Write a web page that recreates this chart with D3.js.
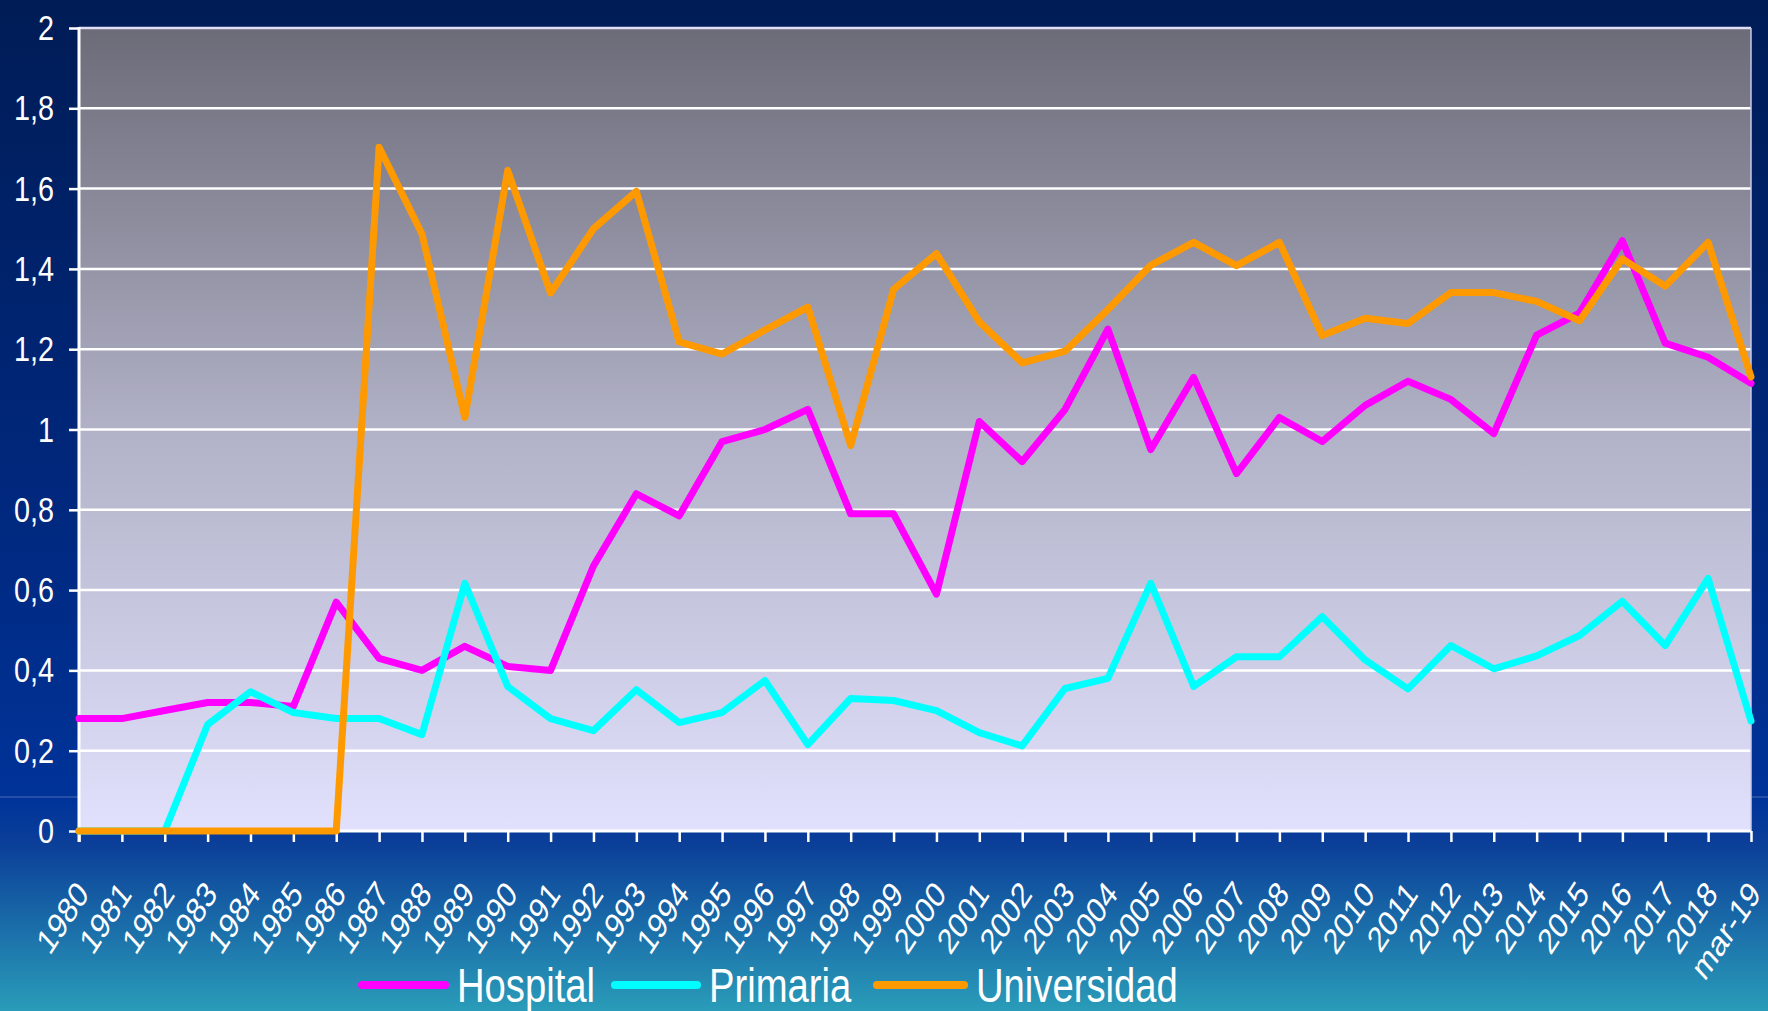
<!DOCTYPE html>
<html>
<head>
<meta charset="utf-8">
<script src="https://cdn.jsdelivr.net/npm/d3@7"></script>
<style>
body { margin: 0; }
</style>
</head>
<body>
<script>
var years = ["1980","1981","1982","1983","1984","1985","1986","1987","1988","1989",
    "1990","1991","1992","1993","1994","1995","1996","1997","1998","1999",
    "2000","2001","2002","2003","2004","2005","2006","2007","2008","2009",
    "2010","2011","2012","2013","2014","2015","2016","2017","2018","mar-19"];

var hospital = [0.28,0.28,0.30,0.32,0.32,0.31,0.57,0.43,0.40,0.46,
    0.41,0.40,0.66,0.84,0.785,0.97,1.00,1.05,0.79,0.79,
    0.59,1.02,0.92,1.05,1.25,0.95,1.13,0.89,1.03,0.97,
    1.06,1.12,1.075,0.99,1.235,1.29,1.47,1.215,1.18,1.115];

var primaria = [0,0,0,0.265,0.347,0.295,0.28,0.28,0.24,0.617,
    0.36,0.28,0.25,0.352,0.27,0.295,0.375,0.215,0.33,0.325,
    0.30,0.245,0.212,0.355,0.38,0.617,0.36,0.434,0.434,0.534,
    0.426,0.354,0.462,0.404,0.436,0.487,0.572,0.462,0.629,0.274];

var universidad = [0,0,0,0,0,0,0,1.703,1.487,1.03,
    1.645,1.34,1.50,1.593,1.218,1.188,1.248,1.305,0.96,1.349,
    1.438,1.268,1.166,1.195,1.299,1.409,1.466,1.408,1.466,1.234,
    1.277,1.264,1.341,1.341,1.319,1.271,1.425,1.357,1.466,1.131];

var seriesNames = ["Hospital", "Primaria", "Universidad"];
var seriesColors = ["#ff00ff", "#00ffff", "#ff9900"];
var yTicks = [0, 0.2, 0.4, 0.6, 0.8, 1, 1.2, 1.4, 1.6, 1.8, 2];

var W = 1768, H = 1011;
var plotL = 79, plotR = 1751, plotT = 28, plotB = 831;

var svg = d3.select("body").append("svg").attr("width", W).attr("height", H);
var defs = svg.append("defs");

// slide background
var bg = defs.append("linearGradient").attr("id", "bg")
    .attr("x1", 0).attr("y1", 0).attr("x2", 0).attr("y2", 1);
bg.append("stop").attr("offset", 0).attr("stop-color", "#001c56");
bg.append("stop").attr("offset", 0.5).attr("stop-color", "#00287e");
bg.append("stop").attr("offset", 0.79).attr("stop-color", "#003399");
bg.append("stop").attr("offset", 0.835).attr("stop-color", "#0b3f99");
bg.append("stop").attr("offset", 1).attr("stop-color", "#2a9cb9");

// plot area background
var pg = defs.append("linearGradient").attr("id", "plotbg")
    .attr("x1", 0).attr("y1", 0).attr("x2", 0).attr("y2", 1);
pg.append("stop").attr("offset", 0).attr("stop-color", "#6c6b78");
pg.append("stop").attr("offset", 0.5).attr("stop-color", "#b1b1c7");
pg.append("stop").attr("offset", 1).attr("stop-color", "#e1e1fd");

svg.append("rect").attr("width", W).attr("height", H).attr("fill", "url(#bg)");
svg.append("line").attr("x1", 0).attr("x2", W).attr("y1", 797).attr("y2", 797)
    .attr("stroke", "#4d6cb5").attr("stroke-width", 1);

svg.append("rect")
    .attr("x", plotL).attr("y", plotT)
    .attr("width", plotR - plotL).attr("height", plotB - plotT)
    .attr("fill", "url(#plotbg)");

var x = d3.scalePoint().domain(years).range([plotL, plotR]);
var y = d3.scaleLinear().domain([0, 2]).range([plotB, plotT]);

// grid lines
svg.append("g")
    .selectAll("line")
    .data(yTicks.slice(1))
    .enter().append("line")
    .attr("x1", plotL).attr("x2", plotR)
    .attr("y1", function(d) { return y(d); })
    .attr("y2", function(d) { return y(d); })
    .attr("stroke", function(d) { return d == 2 ? "#dedef6" : "#ffffff"; })
    .attr("stroke-width", 2.5);

svg.append("line").attr("x1", plotR).attr("x2", plotR).attr("y1", plotT).attr("y2", plotB)
    .attr("stroke", "#c8c8e8").attr("stroke-width", 1.5);

// y axis
var yAxis = svg.append("g")
    .attr("transform", "translate(" + plotL + ",0)")
    .call(d3.axisLeft(y).tickValues(yTicks).tickSize(10).tickPadding(0)
        .tickFormat(function(d) { return String(d).replace(".", ","); }));
yAxis.select(".domain").attr("stroke", "#ffffff").attr("stroke-width", 3)
    .attr("d", "M0," + (plotT - 1) + "V" + (plotB + 11));
yAxis.selectAll(".tick line").attr("stroke", "#ffffff").attr("stroke-width", 2.5);
yAxis.selectAll(".tick text")
    .attr("x", null)
    .attr("fill", "#ffffff")
    .attr("font-family", "Liberation Sans, Arial, sans-serif")
    .attr("font-size", 36)
    .attr("text-anchor", "end")
    .attr("transform", "translate(-25,0) scale(0.8,1)");

// x axis
var xAxis = svg.append("g")
    .attr("transform", "translate(0," + plotB + ")")
    .call(d3.axisBottom(x).tickSize(11).tickFormat(""));
xAxis.select(".domain").attr("stroke", "#ffffff").attr("stroke-width", 3)
    .attr("d", "M" + plotL + ",0H" + plotR);
xAxis.selectAll(".tick line").attr("stroke", "#ffffff").attr("stroke-width", 2.5);

svg.append("g")
    .selectAll("g")
    .data(years)
    .enter().append("g")
    .attr("transform", function(d) { return "translate(" + (x(d) + 11) + ",895) scale(0.78,1) rotate(-50)"; })
    .append("text")
    .text(function(d) { return d; })
    .attr("text-anchor", "end")
    .attr("fill", "#ffffff")
    .attr("font-family", "Liberation Sans, Arial, sans-serif")
    .attr("font-size", 36);

// lines
var line = d3.line()
    .x(function(d, i) { return x(years[i]); })
    .y(function(d) { return y(d); });

var allSeries = [hospital, primaria, universidad];
for (var i = 0; i < allSeries.length; i++) {
    svg.append("path")
        .datum(allSeries[i])
        .attr("d", line)
        .attr("fill", "none")
        .attr("stroke", seriesColors[i])
        .attr("stroke-width", 7)
        .attr("stroke-linejoin", "round")
        .attr("stroke-linecap", "round");
}

// legend
var legendX = [362, 615, 877];
var legendW = [83, 82, 87];
var legend = svg.append("g");
for (var i = 0; i < seriesNames.length; i++) {
    legend.append("line")
        .attr("x1", legendX[i]).attr("x2", legendX[i] + legendW[i])
        .attr("y1", 985).attr("y2", 985)
        .attr("stroke", seriesColors[i])
        .attr("stroke-width", 8)
        .attr("stroke-linecap", "round");
    legend.append("text")
        .text(seriesNames[i])
        .attr("transform", "translate(" + (legendX[i] + legendW[i] + 12) + ",1002) scale(0.78,1)")
        .attr("fill", "#ffffff")
        .attr("font-family", "Liberation Sans, Arial, sans-serif")
        .attr("font-size", 49);
}
</script>
</body>
</html>
